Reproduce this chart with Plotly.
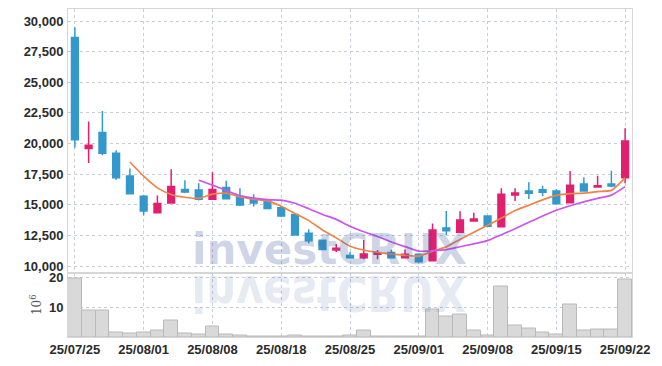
import base64
import plotly.graph_objects as go

dates = [
    "25/07/25", "25/07/28", "25/07/29", "25/07/30", "25/07/31",
    "25/08/01", "25/08/04", "25/08/05", "25/08/06", "25/08/07",
    "25/08/08", "25/08/11", "25/08/12", "25/08/13", "25/08/14",
    "25/08/18", "25/08/19", "25/08/20", "25/08/21", "25/08/22",
    "25/08/25", "25/08/26", "25/08/27", "25/08/28", "25/08/29",
    "25/09/01", "25/09/02", "25/09/03", "25/09/04", "25/09/05",
    "25/09/08", "25/09/09", "25/09/10", "25/09/11", "25/09/12",
    "25/09/15", "25/09/16", "25/09/17", "25/09/18", "25/09/19",
    "25/09/22",
]
opens = [28650, 19600, 20900, 19200, 17350, 15700, 14350, 15150, 16250, 16200,
         15450, 16400, 15650, 15400, 15300, 14750, 14200, 12670, 12100, 11300,
         10850, 10680, 10950, 11100, 10680, 10950, 10430, 13100, 12750, 13670,
         14080, 13200, 15800, 16120, 16220, 16120, 15160, 16700, 16450, 16700,
         17200]
highs = [29500, 21800, 22650, 19450, 17950, 15800, 15750, 17900, 17000, 16750,
         17650, 16950, 16350, 15850, 15400, 14900, 14250, 13000, 12150, 11800,
         11150, 12120, 11300, 11350, 11350, 11050, 13480, 14490, 14480, 14350,
         14150, 16350, 16350, 16830, 16550, 16260, 17750, 17240, 17370, 17780,
         21250]
lows = [19650, 18400, 19050, 17050, 15850, 14150, 14300, 15100, 15950, 15350,
        15400, 15450, 14900, 14850, 14650, 14000, 12480, 11850, 11300, 11150,
        10620, 10550, 10550, 10620, 10620, 10270, 10400, 12530, 12700, 13620,
        13220, 13180, 15300, 15470, 15720, 15050, 15130, 16060, 16440, 16420,
        16750]
closes = [20300, 19850, 19200, 17200, 15900, 14500, 15100, 16500, 16050, 15450,
          16250, 15500, 14980, 15150, 14700, 14080, 12530, 12070, 11350, 11450,
          10680, 10980, 11080, 10680, 10950, 10350, 12940, 12880, 13750, 13830,
          13250, 15850, 15950, 15930, 16020, 15080, 16600, 16120, 16550, 16530,
          20200]
# volume in millions of shares
volumes = [19.6, 9.0, 9.0, 1.55, 1.2, 1.65, 2.3, 5.55, 1.3, 1.0,
           3.55, 1.0, 0.55, 0.25, 0.25, 0.1, 0.55, 0.3, 0.3, 0.3,
           0.65, 2.2, 0.3, 0.3, 0.3, 0.3, 9.2, 7.0, 7.65, 2.2,
           0.55, 16.9, 3.9, 2.9, 1.55, 0.9, 10.9, 2.2, 2.65, 2.65,
           19.2]
# 5-day and 10-day moving averages (start at 5th / 10th session)
ma5 = [18490, 17330, 16380, 15840, 15610, 15520, 15870, 15950, 15646, 15466,
       15316, 14882, 14288, 13706, 12946, 12296, 11616, 11306, 11108, 10974,
       10874, 10808, 11200, 11560, 12174, 12750, 13330, 13912, 14526, 14962,
       15400, 15766, 15916, 15950, 16074, 16176, 17200]
ma10 = [17005, 16600, 16165, 15743, 15538, 15418, 15376, 15119, 14676, 14206,
        13806, 13249, 12797, 12407, 11960, 11585, 11212, 11253, 11334, 11574,
        11812, 12069, 12556, 13043, 13568, 14075, 14548, 14914, 15238, 15518,
        15788, 16483]

price_ticks = [10000, 12500, 15000, 17500, 20000, 22500, 25000, 27500, 30000]
price_tick_text = [f"{v:,}" for v in price_ticks]
date_ticks = ["25/07/25", "25/08/01", "25/08/08", "25/08/18", "25/08/25",
              "25/09/01", "25/09/08", "25/09/15", "25/09/22"]
vol_ticks = [10, 20]

UP = "#E0206E"
DOWN = "#3399CC"
GRID = "#C9CDDB"
FRAME = "#D6D6D6"
TICKFONT = dict(family="Liberation Sans, Arial, sans-serif",
                size=13, color="#2b2b2b", weight="bold")
WM_FONT = "DejaVu Sans, sans-serif"

fig = go.Figure()
fig.add_trace(go.Candlestick(
    x=dates, open=opens, high=highs, low=lows, close=closes,
    increasing=dict(line=dict(color=UP, width=1.5), fillcolor=UP),
    decreasing=dict(line=dict(color=DOWN, width=1.5), fillcolor=DOWN),
    xaxis="x", yaxis="y", showlegend=False, hoverinfo="skip"))
fig.add_trace(go.Scatter(
    x=dates[4:], y=ma5, mode="lines",
    line=dict(color="#EE8547", width=1.7, shape="spline", smoothing=0.5),
    xaxis="x", yaxis="y", showlegend=False, hoverinfo="skip"))
fig.add_trace(go.Scatter(
    x=dates[9:], y=ma10, mode="lines",
    line=dict(color="#CC55EE", width=1.7, shape="spline", smoothing=0.5),
    xaxis="x", yaxis="y", showlegend=False, hoverinfo="skip"))
fig.add_trace(go.Bar(
    x=dates, y=volumes,
    marker=dict(color="#D9D9D9", line=dict(color="#B9B9B9", width=1)),
    xaxis="x2", yaxis="y2", showlegend=False, hoverinfo="skip"))

split = (337 - 272.5) / 328

common_x = dict(type="category", range=[-0.5, len(dates) - 0.5],
                tickmode="array", tickvals=date_ticks, automargin=False,
                showgrid=True, gridcolor=GRID, griddash="dot", gridwidth=1,
                showline=True, mirror=True, linecolor=FRAME, linewidth=1,
                zeroline=False, ticks="")

# reflected watermark as a vertically flipped SVG text image
svg = ("<svg xmlns='http://www.w3.org/2000/svg' width='340' height='50' viewBox='0 0 340 50'>"
       "<g transform='scale(1,-1.17)'>"
       "<text x='170' y='0' text-anchor='middle' font-family='DejaVu Sans, sans-serif' "
       "font-weight='bold' font-size='42' fill='rgb(60,90,160)' fill-opacity='0.145'>investCRUX</text>"
       "</g></svg>")
svg_uri = "data:image/svg+xml;base64," + base64.b64encode(svg.encode()).decode()

wm_x = (329 - 68) / 564

fig.update_layout(
    width=662, height=366, autosize=False,
    margin=dict(l=68, r=30, t=9, b=29, autoexpand=False),
    paper_bgcolor="white", plot_bgcolor="white",
    bargap=0,
    xaxis=dict(common_x, anchor="y", matches="x2", showticklabels=False,
               rangeslider=dict(visible=False)),
    xaxis2=dict(common_x, anchor="y2", showticklabels=True, tickfont=TICKFONT,
                ticklabelstandoff=0),
    yaxis=dict(domain=[split, 1], range=[9470, 30980], tickmode="array",
               tickvals=price_ticks, ticktext=price_tick_text, tickfont=TICKFONT,
               showgrid=True, gridcolor=GRID, griddash="dot", zeroline=False,
               showline=True, mirror=True, linecolor=FRAME, ticks="",
               ticklabelstandoff=1, automargin=False),
    yaxis2=dict(domain=[0, split], range=[0, 21.5], tickmode="array",
                tickvals=vol_ticks, tickfont=TICKFONT,
                showgrid=True, gridcolor=GRID, griddash="dot", zeroline=False,
                showline=True, mirror=True, linecolor=FRAME, ticks="",
                ticklabelstandoff=1, automargin=False,
                title=dict(text="10<sup>6</sup>", standoff=4,
                           font=dict(family="DejaVu Serif, serif", size=12, color="#555"))),
    annotations=[dict(
        text="investCRUX", xref="paper", yref="paper",
        x=wm_x, y=(337 - 276) / 328, xanchor="center", yanchor="bottom",
        showarrow=False,
        font=dict(family=WM_FONT, size=42, weight="bold",
                  color="rgba(60,90,160,0.25)"))],
    images=[dict(source=svg_uri, xref="paper", yref="paper",
                 x=wm_x, y=(337 - 276) / 328, xanchor="center", yanchor="top",
                 sizex=340 / 564, sizey=50 / 328, sizing="stretch", layer="above")],
)

fig.write_html("out.html",
               config={"displayModeBar": False},
               post_script="document.body.style.margin='0';document.body.style.overflow='hidden';")
